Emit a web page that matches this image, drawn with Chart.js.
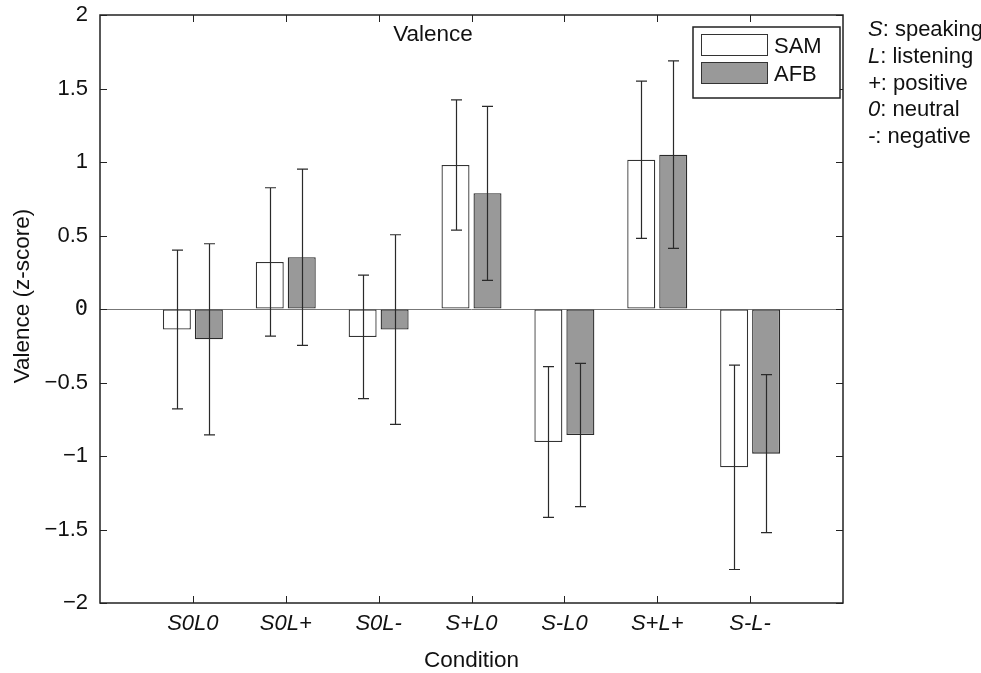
<!DOCTYPE html>
<html>
<head>
<meta charset="utf-8">
<title>Valence</title>
<script src="https://cdn.jsdelivr.net/npm/chart.js@4.4.1/dist/chart.umd.min.js"></script>
<style>
	html, body { margin: 0; padding: 0; background: #fff; }
</style>
</head>
<body>
<canvas id="myChart" width="981" height="673"></canvas>
<script>
// conditions along x, means and error half-widths per rating method
var conditions = ['S0L0', 'S0L+', 'S0L-', 'S+L0', 'S-L0', 'S+L+', 'S-L-'];
var samMean = [-0.14, 0.32, -0.19, 0.98, -0.905, 1.015, -1.077];
var samErr  = [0.54, 0.505, 0.42, 0.443, 0.513, 0.535, 0.695];
var afbMean = [-0.206, 0.352, -0.14, 0.787, -0.857, 1.05, -0.984];
var afbErr  = [0.65, 0.60, 0.645, 0.592, 0.487, 0.638, 0.537];
var seriesNames = ['SAM', 'AFB'];
var yMin = -2, yMax = 2, yStep = 0.5;
var notes = [['S', ': speaking'], ['L', ': listening'], ['+', ': positive'], ['0', ': neutral'], ['-', ': negative']];

var FONT = 'Liberation Sans';
var ctx = document.getElementById('myChart');

function points(arr) {
	return arr.map(function(v, i) { return { x: i + 1, y: v }; });
}

// error bars with caps, drawn on top of the bars
var errorBars = {
	id: 'errorBars',
	afterDatasetsDraw: function(chart) {
		var c = chart.ctx, ys = chart.scales.y;
		var errs = [samErr, afbErr], means = [samMean, afbMean];
		c.save();
		c.strokeStyle = '#2a2a2a';
		c.lineWidth = 1.2;
		for (var d = 0; d < 2; d++) {
			var meta = chart.getDatasetMeta(d);
			meta.data.forEach(function(bar, j) {
				var x = Math.round(bar.x) + 0.5;
				var top = ys.getPixelForValue(means[d][j] + errs[d][j]);
				var bot = ys.getPixelForValue(means[d][j] - errs[d][j]);
				c.beginPath();
				c.moveTo(x, top); c.lineTo(x, bot);
				c.moveTo(x - 5.5, top); c.lineTo(x + 5.5, top);
				c.moveTo(x - 5.5, bot); c.lineTo(x + 5.5, bot);
				c.stroke();
			});
		}
		c.restore();
	}
};

// axes box, inward ticks, titles, legend and the key on the right
var decorations = {
	id: 'decorations',
	afterDraw: function(chart) {
		var c = chart.ctx, a = chart.chartArea;
		var xs = chart.scales.x, ys = chart.scales.y;
		c.save();
		c.strokeStyle = '#222';
		c.lineWidth = 1.5;
		c.strokeRect(a.left, a.top, a.right - a.left, a.bottom - a.top);

		c.lineWidth = 1;
		c.beginPath();
		for (var v = yMin; v <= yMax + 1e-9; v += yStep) {
			var py = Math.round(ys.getPixelForValue(v)) + 0.5;
			c.moveTo(a.left, py); c.lineTo(a.left + 7, py);
			c.moveTo(a.right, py); c.lineTo(a.right - 7, py);
		}
		for (var k = 1; k <= conditions.length; k++) {
			var px = Math.round(xs.getPixelForValue(k)) + 0.5;
			c.moveTo(px, a.bottom); c.lineTo(px, a.bottom - 7);
			c.moveTo(px, a.top); c.lineTo(px, a.top + 7);
		}
		c.stroke();

		c.fillStyle = '#111';
		c.font = '22.5px "' + FONT + '"';
		c.textAlign = 'center';
		c.textBaseline = 'alphabetic';
		c.fillText('Valence', 433, 41);
		c.fillText('Condition', (a.left + a.right) / 2, 667);

		c.save();
		c.translate(23, 296);
		c.rotate(-Math.PI / 2);
		c.textBaseline = 'middle';
		c.fillText('Valence (z-score)', 0, 0);
		c.restore();

		// legend
		c.font = '22px "' + FONT + '"';
		c.lineWidth = 1.5;
		c.strokeStyle = '#222';
		c.fillStyle = '#fff';
		c.fillRect(693, 27, 147, 71);
		c.strokeRect(693, 27, 147, 71);
		c.textAlign = 'left';
		c.lineWidth = 1;
		chart.data.datasets.forEach(function(ds, i) {
			var top = 34 + i * 28;
			c.fillStyle = ds.backgroundColor;
			c.fillRect(701, top, 66, 21);
			c.strokeStyle = '#333';
			c.strokeRect(701.5, top + 0.5, 66, 21);
			c.fillStyle = '#111';
			c.fillText(ds.label, 774, top + 18.5);
		});

		// key for the condition codes
		notes.forEach(function(n, i) {
			var y = 36 + i * 26.8;
			c.font = 'italic 22px "' + FONT + '"';
			c.fillText(n[0], 868, y);
			var w = c.measureText(n[0]).width;
			c.font = '22px "' + FONT + '"';
			c.fillText(n[1], 868 + w, y);
		});
		c.restore();
	}
};

var myChart = new Chart(ctx, {
	type: 'bar',
	data: {
		datasets: [
			{
				label: seriesNames[0],
				data: points(samMean),
				backgroundColor: '#ffffff',
				borderColor: '#333333',
				borderWidth: 1.3,
				borderSkipped: false
			},
			{
				label: seriesNames[1],
				data: points(afbMean),
				backgroundColor: '#999999',
				borderColor: '#2a2a2a',
				borderWidth: 1.3,
				borderSkipped: false
			}
		]
	},
	options: {
		responsive: false,
		animation: false,
		devicePixelRatio: 1,
		categoryPercentage: 0.689,
		barPercentage: 0.875,
		layout: { padding: { top: 15, right: 138, left: 0, bottom: 0 } },
		plugins: {
			legend: { display: false },
			tooltip: { enabled: false }
		},
		scales: {
			x: {
				type: 'linear',
				min: 0,
				max: conditions.length + 1,
				offset: false,
				grid: { display: false, drawTicks: false },
				border: { display: false },
				ticks: {
					stepSize: 1,
					autoSkip: false,
					maxRotation: 0,
					padding: 8,
					color: '#111',
					font: { family: FONT, size: 22, style: 'italic' },
					callback: function(v) { return conditions[v - 1] || ''; }
				},
				afterFit: function(s) {
					s.height = 70;
					s.paddingLeft = 0;
					s.paddingRight = 0;
				}
			},
			y: {
				min: yMin,
				max: yMax,
				grid: {
					drawTicks: false,
					lineWidth: 1,
					color: function(c) { return c.tick && c.tick.value === 0 ? '#777' : 'rgba(0,0,0,0)'; }
				},
				border: { display: false },
				ticks: {
					stepSize: yStep,
					padding: 12,
					color: '#111',
					font: function(c) {
						return { family: c.tick && c.tick.value === 0 ? 'DejaVu Sans Mono' : FONT, size: 22 };
					},
					callback: function(v) { return String(v).replace('-', '\u2212'); }
				},
				afterFit: function(s) {
					s.width = 100;
					s.paddingTop = 0;
					s.paddingBottom = 0;
				}
			}
		}
	},
	plugins: [errorBars, decorations]
});
</script>
</body>
</html>
